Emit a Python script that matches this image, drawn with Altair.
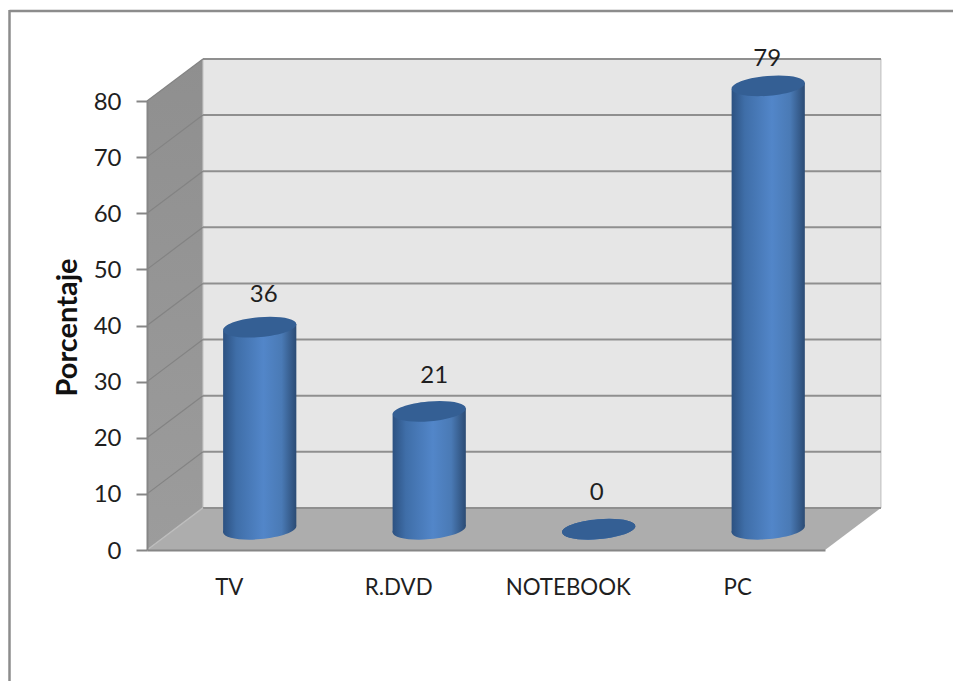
import altair as alt
import pandas as pd

# Survey figures
categories = ["TV", "R.DVD", "NOTEBOOK", "PC"]
values = [36, 21, 0, 79]
y_ticks = [0, 10, 20, 30, 40, 50, 60, 70, 80]

# Depth of the drawn box, in axis units
DEPTH_X = 0.33
DEPTH_Y = 7.5
FLOOR_Y = 3.7
# Half extents of a cylinder's tilted rim, in axis units
RIM_X = 0.216
RIM_Y = 0.57
FONT = "Lato"
INK = "#1f1f1f"
EDGE = "#868686"

xs = alt.Scale(domain=[0, 4], nice=False, zero=False, padding=0)
ys = alt.Scale(domain=[0, 80], nice=False, zero=False, padding=0)

x_axis = alt.Axis(
    values=[0.5, 1.5, 2.5, 3.5],
    labelExpr="['TV','R.DVD','NOTEBOOK','PC'][floor(datum.value)]",
    title=None, ticks=False, grid=False, domain=True, domainColor=EDGE, domainWidth=2,
    labelFont=FONT, labelFontSize=22.3, labelColor=INK, labelPadding=26, labelOffset=-3,
    labelAngle=0, labelAlign="center", zindex=1,
)
y_axis = alt.Axis(
    values=y_ticks, title="Porcentaje", titleFont=FONT, titleFontSize=29, titleFontWeight="bold",
    titleColor="#111111", titleX=-80, titleY=226, titleAlign="center", titleBaseline="middle",
    ticks=True, tickSize=11, tickColor=EDGE, tickWidth=2, grid=False,
    domain=True, domainColor=EDGE, domainWidth=2,
    labelFont=FONT, labelFontSize=24, labelColor=INK, labelPadding=15, labelOffset=1, zindex=1,
)


def X(field):
    return alt.X(field, type="quantitative", scale=xs, axis=x_axis)


def Y(field):
    return alt.Y(field, type="quantitative", scale=ys, axis=y_axis)


bars = pd.DataFrame({
    "cat": categories,
    "value": values,
    "x": [i + 0.5 + DEPTH_X / 2 for i in range(len(categories))],
    "base": [FLOOR_Y] * len(categories),
})
bars["top"] = bars["value"] + bars["base"]

# Each cylinder's body is a slightly sheared band running between its rim ends
body_rows = []
for row in bars.itertuples():
    for side in (-1, 1):
        body_rows.append({
            "cat": row.cat,
            "x": row.x + side * RIM_X,
            "lo": row.base + side * RIM_Y,
            "hi": row.top + side * RIM_Y,
        })
bodies_df = pd.DataFrame(body_rows)

cylinder = alt.Gradient(
    gradient="linear", x1=0, x2=1, y1=0, y2=0,
    stops=[
        alt.GradientStop(color="#2c5181", offset=0),
        alt.GradientStop(color="#3f6ea8", offset=0.18),
        alt.GradientStop(color="#5286c9", offset=0.55),
        alt.GradientStop(color="#4a7ab5", offset=0.8),
        alt.GradientStop(color="#2b4b74", offset=1),
    ],
)
side_wall = alt.Gradient(
    gradient="linear", x1=0, x2=0, y1=0, y2=1,
    stops=[
        alt.GradientStop(color="#8f8f8f", offset=0),
        alt.GradientStop(color="#9c9c9c", offset=1),
    ],
)

# Tilted ellipse used for the cylinder caps and bases
ELLIPSE = "M-0.9962,0.0872 A1,0.27,-5,1,1,0.9962,-0.0872 A1,0.27,-5,1,1,-0.9962,0.0872 Z"
CAP_SIZE = 5402

# Outer frame: only the top and left edges fall inside the page
frame = alt.layer(
    alt.Chart(pd.DataFrame({"a": [0]})).mark_rule(color="#8c8c8c", strokeWidth=2.5).encode(
        x=alt.value(-137.5), x2=alt.value(806), y=alt.value(-90)),
    alt.Chart(pd.DataFrame({"a": [0]})).mark_rule(color="#8c8c8c", strokeWidth=2.5).encode(
        x=alt.value(-137.5), y=alt.value(-91), y2=alt.value(580)),
)

left_wall = alt.Chart(pd.DataFrame({
    "x": [0, DEPTH_X], "lo": [0, DEPTH_Y], "hi": [80, 80 + DEPTH_Y],
})).mark_area(orient="vertical", fill=side_wall).encode(
    x=X("x"), y=Y("lo"), y2=alt.Y2("hi"),
)

back_wall = alt.Chart(pd.DataFrame({
    "x": [DEPTH_X], "x2": [4 + DEPTH_X], "y": [DEPTH_Y], "y2": [80 + DEPTH_Y],
})).mark_rect(fill="#e6e6e6", stroke="#bcbcbc", strokeWidth=1).encode(
    x=X("x"), x2="x2", y=Y("y"), y2="y2",
)

floor = alt.Chart(pd.DataFrame({
    "y": [0, DEPTH_Y], "x": [0, DEPTH_X], "x2": [4, 4 + DEPTH_X],
})).mark_area(orient="horizontal", fill="#adadad").encode(
    y=Y("y"), x=X("x"), x2="x2",
)

grid_rows = pd.DataFrame({"v": y_ticks})
grid_rows["back"] = grid_rows["v"] + DEPTH_Y
grid_rows["x0"] = 0.0
grid_rows["x1"] = DEPTH_X
grid_rows["x2"] = 4 + DEPTH_X

back_grid = alt.Chart(grid_rows).mark_rule(color="#8f8f8f", strokeWidth=2).encode(
    x=X("x1"), x2="x2", y=Y("back"),
)
side_grid = alt.Chart(grid_rows[grid_rows["v"] > 0]).mark_rule(color="#838383", strokeWidth=1.2).encode(
    x=X("x0"), x2="x1", y=Y("v"), y2="back",
)
floor_seam = alt.Chart(grid_rows[grid_rows["v"] == 0]).mark_rule(color="#bdbdbd", strokeWidth=1.5).encode(
    x=X("x0"), x2="x1", y=Y("v"), y2="back",
)

bases = alt.Chart(bars).mark_point(
    shape=ELLIPSE, size=CAP_SIZE, filled=True, fill=cylinder, opacity=1, strokeWidth=0,
).encode(x=X("x"), y=Y("base"))

shafts = alt.Chart(bodies_df).mark_area(orient="vertical", fill=cylinder).encode(
    x=X("x"), y=Y("lo"), y2="hi", detail="cat:N",
)

caps = alt.Chart(bars).mark_point(
    shape=ELLIPSE, size=CAP_SIZE, filled=True, fill="#345f94", opacity=1, strokeWidth=0,
).encode(x=X("x"), y=Y("top"))

# Value labels, each nudged to clear its cap
label_nudges = {"TV": (4, -32), "R.DVD": (5, -35), "NOTEBOOK": (-2, -36), "PC": (-1, -27)}
labels = [
    alt.Chart(bars[bars["cat"] == c]).mark_text(
        font=FONT, fontSize=24, color=INK, dx=dx, dy=dy, baseline="middle", align="center",
    ).encode(x=X("x"), y=Y("top"), text=alt.Text("value:Q"))
    for c, (dx, dy) in label_nudges.items()
]

chart = alt.layer(
    frame, left_wall, back_wall, floor, back_grid, side_grid, floor_seam,
    bases, shafts, caps, *labels,
).properties(
    width=678,
    height=449,
    padding={"left": 147, "top": 101, "right": 128, "bottom": 131},
    autosize=alt.AutoSizeParams(type="none"),
    background="white",
).configure_view(stroke=None)

chart.save("out.html", embed_options={"renderer": "svg", "actions": False})
